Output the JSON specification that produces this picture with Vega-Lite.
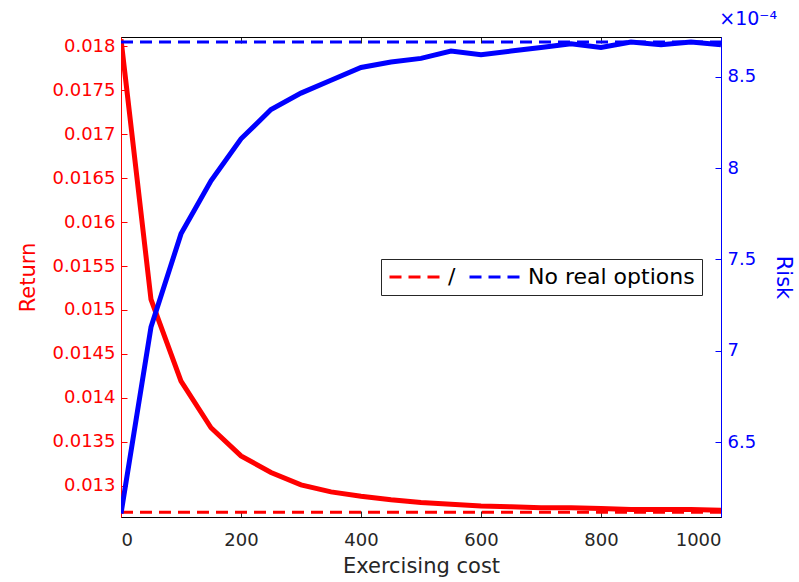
{
  "$schema": "https://vega.github.io/schema/vega-lite/v6.json",
  "width": 600,
  "height": 480,
  "autosize": {"type": "none"},
  "padding": {"left": 121, "top": 37, "right": 78, "bottom": 65},
  "background": "white",
  "config": {
    "font": "DejaVu Sans",
    "view": {"stroke": "black", "strokeWidth": 1},
    "axis": {"grid": false, "labelFontSize": 18, "titleFontSize": 21, "titleFontWeight": "normal", "labelFont": "DejaVu Sans", "titleFont": "DejaVu Sans", "tickWidth": 1},
    "legend": {"labelFont": "DejaVu Sans"}
  },
  "title": {"text": "×10⁻⁴", "anchor": "end", "frame": "group", "orient": "top", "color": "#0000ff", "fontSize": 19, "fontWeight": "normal", "font": "DejaVu Sans", "dx": 56, "offset": 8},
  "datasets": {
    "curve": [
      {"cost": 0, "ret": 0.01808, "risk": 6.11},
      {"cost": 50, "ret": 0.01512, "risk": 7.13},
      {"cost": 100, "ret": 0.01419, "risk": 7.64},
      {"cost": 150, "ret": 0.01366, "risk": 7.93},
      {"cost": 200, "ret": 0.01334, "risk": 8.16},
      {"cost": 250, "ret": 0.01315, "risk": 8.32},
      {"cost": 300, "ret": 0.01301, "risk": 8.41},
      {"cost": 350, "ret": 0.01293, "risk": 8.48},
      {"cost": 400, "ret": 0.01288, "risk": 8.55},
      {"cost": 450, "ret": 0.01284, "risk": 8.58},
      {"cost": 500, "ret": 0.01281, "risk": 8.60},
      {"cost": 550, "ret": 0.01279, "risk": 8.64},
      {"cost": 600, "ret": 0.01277, "risk": 8.62},
      {"cost": 650, "ret": 0.01276, "risk": 8.64},
      {"cost": 700, "ret": 0.01275, "risk": 8.66},
      {"cost": 750, "ret": 0.01275, "risk": 8.68},
      {"cost": 800, "ret": 0.01274, "risk": 8.66},
      {"cost": 850, "ret": 0.01273, "risk": 8.69},
      {"cost": 900, "ret": 0.01273, "risk": 8.675},
      {"cost": 950, "ret": 0.01273, "risk": 8.69},
      {"cost": 1000, "ret": 0.01272, "risk": 8.675}
    ],
    "base": [
      {"cost": 0, "ret": 0.012697, "risk": 8.69},
      {"cost": 1000, "ret": 0.012697, "risk": 8.69}
    ]
  },
  "layer": [
    {
      "encoding": {
        "x": {"field": "cost", "type": "quantitative",
          "scale": {"domain": [0, 1000], "nice": false, "zero": false},
          "axis": {"orient": "bottom", "title": "Exercising cost", "values": [0, 200, 400, 600, 800, 1000], "format": "d", "tickSize": -6, "labelPadding": 20, "domainColor": "black", "tickColor": "#262626", "labelColor": "#262626", "titleColor": "#262626", "titlePadding": 6}},
        "y": {"type": "quantitative",
          "scale": {"domain": [0.012644, 0.018107], "nice": false, "zero": false},
          "axis": {"orient": "left", "title": "Return", "values": [0.013, 0.0135, 0.014, 0.0145, 0.015, 0.0155, 0.016, 0.0165, 0.017, 0.0175, 0.018], "format": "~g", "tickSize": -6, "labelPadding": 12, "domainColor": "#ff0000", "tickColor": "#ff0000", "labelColor": "#ff0000", "titleColor": "#ff0000", "titlePadding": 14}}
      },
      "layer": [
        {"data": {"name": "curve"}, "mark": {"type": "line", "color": "#ff0000", "strokeWidth": 5, "clip": true}, "encoding": {"y": {"field": "ret", "type": "quantitative"}}},
        {"data": {"name": "base"}, "mark": {"type": "line", "strokeWidth": 3, "strokeDash": [12, 7], "clip": true},
          "encoding": {"y": {"field": "ret", "type": "quantitative"},
            "color": {"datum": "/", "type": "nominal",
              "scale": {"domain": ["/", "No real options"], "range": ["#ff0000", "#0000ff"]},
              "legend": {"orient": "none", "legendX": 260, "legendY": 222, "direction": "horizontal", "title": null, "symbolType": "M-3,0H3", "symbolSize": 361, "symbolOffset": 19, "symbolStrokeWidth": 3, "symbolDash": [12, 7], "labelFontSize": 22, "labelColor": "black", "labelOffset": 19, "columnPadding": 7, "strokeColor": "#262626", "fillColor": "white", "padding": 7, "labelLimit": 300}}}}
      ]
    },
    {
      "encoding": {
        "x": {"field": "cost", "type": "quantitative",
          "axis": {"orient": "top", "title": null, "labels": false, "values": [0, 200, 400, 600, 800, 1000], "tickSize": -6, "domainColor": "black", "tickColor": "#262626"}},
        "y": {"type": "quantitative",
          "scale": {"domain": [6.091, 8.717], "nice": false, "zero": false},
          "axis": {"orient": "right", "title": "Risk", "values": [6.5, 7, 7.5, 8, 8.5], "format": "~g", "tickSize": -6, "labelPadding": 12, "domainColor": "#0000ff", "tickColor": "#0000ff", "labelColor": "#0000ff", "titleColor": "#0000ff", "titlePadding": 17}}
      },
      "layer": [
        {"data": {"name": "curve"}, "mark": {"type": "line", "color": "#0000ff", "strokeWidth": 5, "clip": true}, "encoding": {"y": {"field": "risk", "type": "quantitative"}}},
        {"data": {"name": "base"}, "mark": {"type": "line", "strokeWidth": 3, "strokeDash": [12, 7], "clip": true},
          "encoding": {"y": {"field": "risk", "type": "quantitative"},
            "color": {"datum": "No real options", "type": "nominal"}}}
      ]
    }
  ],
  "resolve": {"scale": {"y": "independent"}, "axis": {"x": "independent"}}
}
